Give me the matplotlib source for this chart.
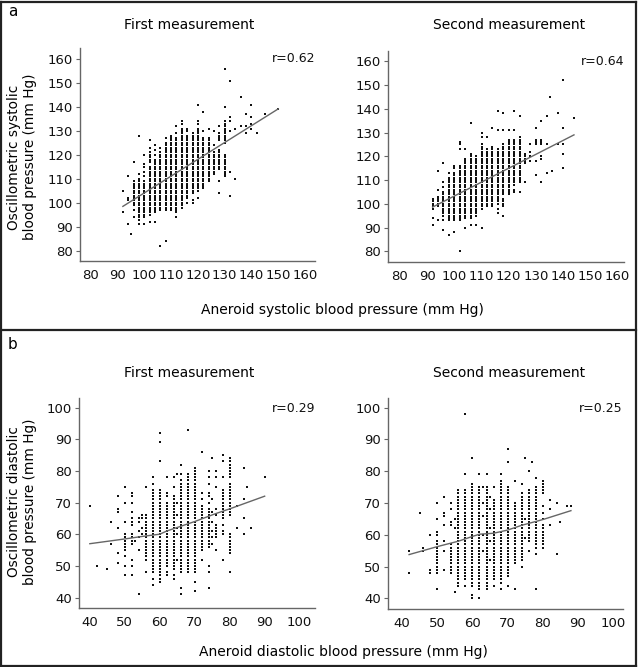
import matplotlib
matplotlib.use("Agg")
import matplotlib.pyplot as plt
from matplotlib.lines import Line2D

# ========= DATA ========= #
# each column: aneroid value -> oscillometric values ("a-b" = every integer from a to b)

SYS_FIRST = [
    (92, "96 105"), (94, "91 101 102 111"), (95, "87"),
    (96, "94 97 99-109 117"), (98, "91 93-110 112 128"),
    (100, "91 94-109 111 113 115 116 120"), (102, "92 95-115 117-121 123 126"),
    (104, "92 96-118 120 122 124"), (106, "82 97-121 123"),
    (108, "84 97-125 127"), (110, "97-128"), (112, "94 96-127 129 132"),
    (114, "98-131 133 134"), (116, "100 102-128 130 131"),
    (118, "100 101 104-129"), (120, "102 105-131 133 134 141"),
    (122, "106-127 130 138"), (124, "109-127 131"), (126, "112-121 124 130"),
    (128, "104 109 114-122 126-129 132"), (130, "111-120 125-134 140 156"),
    (132, "103 113 130 134 136 151"), (134, "110 131"), (136, "132 144"),
    (138, "129 132 137"), (140, "131 133 136 141"), (142, "129"),
    (145, "137"), (150, "139"),
]
SYS_SECOND = [
    (92, "91 94 98-102"), (94, "93 99-103 106 114"),
    (96, "89 93 95-105 107 109 117"), (98, "87 93-111 113"),
    (100, "88 93-113 115 116"), (102, "80 93-116 123 125 126"),
    (104, "90 94-119 123"), (106, "91 94-121 134"), (108, "91 95-120"),
    (110, "90 98-125 128 130"), (112, "99-123 128"), (114, "99-124 132"),
    (116, "96 98 100-123 131 139"), (118, "95 99-102 104-125 131 138"),
    (120, "104-127 131"), (122, "105 106 108-127 131 139"),
    (124, "105 109-128 137"), (126, "109 117-121"), (128, "118 120 122 125"),
    (130, "112 118 125-127 132"), (132, "109 119 120 125-127 135"),
    (134, "113 125 137"), (135, "145"), (136, "114"), (138, "125 138"),
    (140, "115 121 125 132 152"), (144, "136"),
]
DIA_FIRST = [
    (40, "69"), (42, "50"), (45, "49"), (46, "57 64"),
    (48, "51 54 62 67 68 72"), (50, "47 50 53 55-60 64 70 75"),
    (52, "47 50 52 57-60 63-65 67 70 72 73"), (53, "58"),
    (54, "41 55 59 61 64 65"), (55, "60 62 65 66"), (56, "48 52-66 75"),
    (58, "44 46 48-74 76 78"), (60, "45-74 83 89 92"),
    (62, "47 48 50-70 72 73 78"), (64, "46 47 49-72 75 78"),
    (65, "52 60 62 66 70 79"), (66, "41 43 48-77 79 82"), (68, "48-79 93"),
    (70, "42 45 48-81"), (72, "52 55-69 71 73 86"),
    (74, "43 48 50 56-68 70 72 73 76 78 80"), (75, "57 59 61 64 67 71 84"),
    (76, "55 59-63 66 68 75 78 80"), (78, "52 60 61 63 65-74 78 83 85"),
    (80, "48 54-60 66-76 78-84"), (82, "62 69"), (84, "60 65 71 81"),
    (85, "75"), (86, "62"), (90, "78"),
]
DIA_SECOND = [
    (42, "48 55"), (45, "67"), (46, "55 56"), (48, "48 49 60"),
    (50, "43 48-58 60 61 65 70"), (52, "49 55 58 63 66 67 72"),
    (54, "48-57 63 64 68 70"), (55, "42 62 65"), (56, "44-74"),
    (58, "44 46-74 79 98"), (60, "40 41 44-76 84"), (62, "40 43-75 79"),
    (63, "55 60 66 70 75"), (64, "43-75 79"), (65, "52 58 62 68 72"),
    (66, "44 46-71 75"), (68, "43 45-77 79"), (70, "44 47-75 83 87"),
    (72, "43 51-70 77"), (74, "50 52-73 76"), (75, "59 65 84"),
    (76, "55 58-74 80"), (77, "83"), (78, "43 54 56-75 78"),
    (80, "56-63 65 67 69 73-77"), (82, "63 68 71"), (84, "54 70"),
    (85, "64"), (87, "69"), (88, "69"),
]

# fitted lines
FIT_SYS_FIRST = ([92, 150], [98.5, 139.2])
FIT_SYS_SECOND = ([92, 144], [98.6, 129.0])
FIT_DIA_FIRST = ([40, 50, 55, 60, 62, 66, 70, 76, 80, 90],
                 [57.0, 58.5, 59.3, 60.0, 61.0, 62.5, 64.0, 66.5, 68.0, 72.0])
FIT_DIA_SECOND = ([42, 50, 56, 60, 62, 66, 70, 74, 80, 88],
                  [53.8, 56.3, 58.0, 59.5, 60.2, 60.5, 61.5, 63.0, 64.8, 67.6])

R_VALUES = ["r=0.62", "r=0.64", "r=0.29", "r=0.25"]
SYS_TICKS = [80, 90, 100, 110, 120, 130, 140, 150, 160]
DIA_TICKS = [40, 50, 60, 70, 80, 90, 100]


def expand(columns):
    xs, ys = [], []
    for x, spec in columns:
        for tok in spec.split():
            if "-" in tok:
                a, b = tok.split("-")
                vals = list(range(int(a), int(b) + 1))
            else:
                vals = [int(tok)]
            xs += [x] * len(vals)
            ys += vals
    return xs, ys


# ========= FIGURE ========= #
W, H = 639, 667
fig = plt.figure(figsize=(W / 100, H / 100), dpi=100)
plt.rcParams["font.family"] = "DejaVu Sans"


def box(left, top, right, bottom):
    return [left / W, 1 - bottom / H, (right - left) / W, (bottom - top) / H]


def ftext(x, y, s, **kw):
    fig.text(x / W, 1 - y / H, s, **kw)


paneles = [
    (SYS_FIRST, FIT_SYS_FIRST, box(80, 48, 315, 261), (76, 163.7), (75.7, 164.6), SYS_TICKS),
    (SYS_SECOND, FIT_SYS_SECOND, box(388, 51, 624, 262), (75.6, 162.4), (75.5, 164.3), SYS_TICKS),
    (DIA_FIRST, FIT_DIA_FIRST, box(79, 398, 315, 608), (36.9, 104.4), (36.7, 103), DIA_TICKS),
    (DIA_SECOND, FIT_DIA_SECOND, box(388, 398, 623, 609), (36.0, 102.8), (36.7, 103), DIA_TICKS),
]

for i, (cols, fit, pos, xlim, ylim, ticks) in enumerate(paneles):
    ax = fig.add_axes(pos)
    xs, ys = expand(cols)
    ax.scatter(xs, ys, s=1.5, marker="s", color="#111111", linewidths=0, zorder=2)
    ax.plot(fit[0], fit[1], color="#666666", lw=1.0, zorder=3)
    ax.set_xlim(*xlim)
    ax.set_ylim(*ylim)
    ax.set_xticks(ticks)
    ax.set_yticks(ticks)
    for s in ["top", "right"]:
        ax.spines[s].set_visible(False)
    for s in ["left", "bottom"]:
        ax.spines[s].set_color("#666666")
        ax.spines[s].set_linewidth(1.0)
    ax.tick_params(axis="x", length=0, pad=6, labelsize=9.5, colors="#111111")
    ax.tick_params(axis="y", length=3, width=0.8, color="#666666", pad=2,
                   labelsize=9.5, labelcolor="#111111")
    ax.text(1.0, 0.95, R_VALUES[i], transform=ax.transAxes,
            ha="right", va="center", fontsize=9, color="#111111")

# titles and labels
for y in [25, 373]:
    ftext(189, y, "First measurement", ha="center", va="center", fontsize=10)
    ftext(509, y, "Second measurement", ha="center", va="center", fontsize=10)

ftext(8, 11, "a", ha="left", va="center", fontsize=11)
ftext(8, 344, "b", ha="left", va="center", fontsize=11)

ftext(22, 157, "Oscillometric systolic\nblood pressure (mm Hg)", rotation=90,
      ha="center", va="center", fontsize=9.8, linespacing=1.1)
ftext(22, 502, "Oscillometric diastolic\nblood pressure (mm Hg)", rotation=90,
      ha="center", va="center", fontsize=9.8, linespacing=1.1)
ftext(342, 310, "Aneroid systolic blood pressure (mm Hg)", ha="center",
      va="center", fontsize=10)
ftext(343, 652, "Aneroid diastolic blood pressure (mm Hg)", ha="center",
      va="center", fontsize=10)

# frame around both panels
kw = dict(color="#222222", lw=1.6, transform=fig.transFigure)
for (x0, y0, x1, y1) in [(1, 1.5, 636, 1.5), (1, 665.5, 636, 665.5), (1, 1.5, 1, 665.5),
                         (636, 1.5, 636, 665.5), (1, 330, 636, 330)]:
    fig.add_artist(Line2D([x0 / W, x1 / W], [1 - y0 / H, 1 - y1 / H], **kw))

fig.savefig("out.png", dpi=100)
